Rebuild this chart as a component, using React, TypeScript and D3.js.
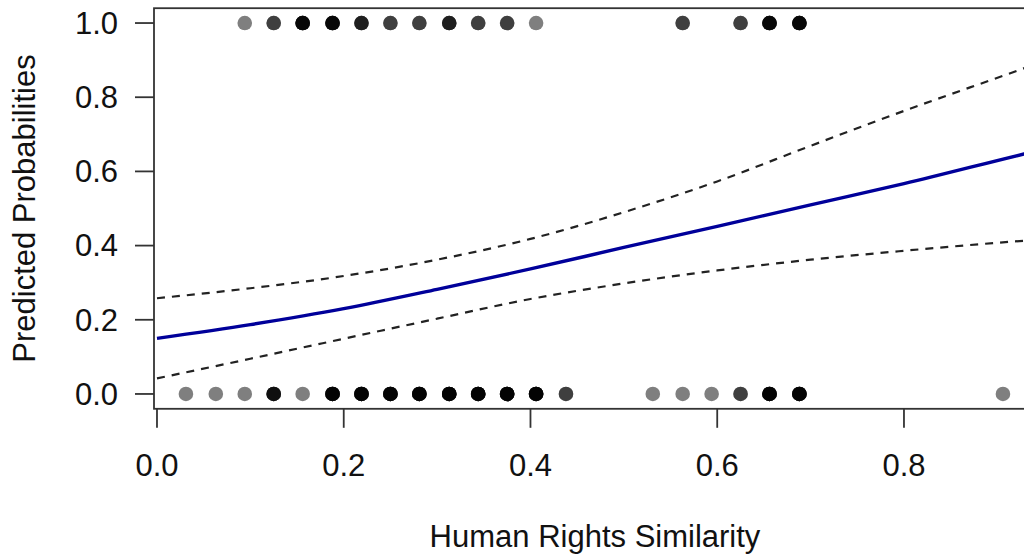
import React from "react";
import * as d3 from "d3";

// x positions of observed outcomes (Human Rights Similarity) and number of overlapping points
const topX = [0.094, 0.125, 0.156, 0.188, 0.219, 0.25, 0.281, 0.313, 0.344, 0.375, 0.406, 0.563, 0.625, 0.656, 0.688];
const topCounts = [1, 2, 5, 5, 3, 2, 2, 3, 2, 2, 1, 2, 2, 5, 5];
const bottomX = [0.031, 0.063, 0.094, 0.125, 0.156, 0.188, 0.219, 0.25, 0.281, 0.313, 0.344, 0.375, 0.406, 0.438, 0.531, 0.563, 0.594, 0.625, 0.656, 0.688, 0.906];
const bottomCounts = [1, 1, 1, 4, 1, 6, 6, 6, 6, 6, 6, 6, 6, 2, 1, 1, 1, 2, 6, 6, 1];

// predicted probability curve and confidence bounds
const curveX = [0.0, 0.1, 0.2, 0.3, 0.4, 0.5, 0.6, 0.7, 0.8, 0.9285, 0.945];
const fitY = [0.150, 0.187, 0.230, 0.282, 0.337, 0.395, 0.452, 0.510, 0.567, 0.647, 0.657];
const upperY = [0.258, 0.285, 0.318, 0.362, 0.418, 0.490, 0.573, 0.669, 0.763, 0.878, 0.893];
const lowerY = [0.042, 0.095, 0.149, 0.203, 0.256, 0.298, 0.333, 0.362, 0.386, 0.413, 0.416];

const xTicks = [0, 0.2, 0.4, 0.6, 0.8];
const yTicks = [0, 0.2, 0.4, 0.6, 0.8, 1.0];
const xTitle = "Human Rights Similarity";
const yTitle = "Predicted Probabilities";

export default function App() {
  const W = 1024, H = 558;
  const left = 154, right = 1036, top = 8.2, bottom = 408.8;
  const x = d3.scaleLinear().domain([-0.0032, 0.9414]).range([left, right]);
  const y = d3.scaleLinear().domain([-0.04, 1.04]).range([bottom, top]);
  const font = "'Liberation Sans', Arial, Helvetica, sans-serif";
  const fs = 31;

  const line = d3.line<number>()
    .x((_, i) => x(curveX[i]))
    .y((d) => y(d))
    .curve(d3.curveMonotoneX);

  const dots: JSX.Element[] = [];
  const addDots = (xs: number[], counts: number[], yv: number, key: string) => {
    xs.forEach((v, i) => {
      for (let k = 0; k < counts[i]; k++) {
        dots.push(
          <circle key={`${key}-${i}-${k}`} cx={x(v)} cy={y(yv)} r={7.3} fill="#000" fillOpacity={0.5} />
        );
      }
    });
  };
  addDots(topX, topCounts, 1, "t");
  addDots(bottomX, bottomCounts, 0, "b");

  return (
    <svg width={W} height={H} style={{ position: "absolute", left: 0, top: 0, background: "#fff" }}>
      <defs>
        <clipPath id="plotclip">
          <rect x={left} y={top} width={right - left} height={bottom - top} />
        </clipPath>
      </defs>
      <rect x={0} y={0} width={W} height={H} fill="#fff" />
      <g clipPath="url(#plotclip)">
        {dots}
        <path d={line(upperY) || ""} fill="none" stroke="#222" strokeWidth={2.2} strokeDasharray="8,7" />
        <path d={line(lowerY) || ""} fill="none" stroke="#222" strokeWidth={2.2} strokeDasharray="8,7" />
        <path d={line(fitY) || ""} fill="none" stroke="#00009a" strokeWidth={3.4} />
      </g>
      <rect x={left} y={top} width={right - left} height={bottom - top} fill="none" stroke="#333" strokeWidth={1.8} />
      {yTicks.map((t) => (
        <g key={`yt${t}`}>
          <line x1={left - 19} x2={left} y1={y(t)} y2={y(t)} stroke="#333" strokeWidth={1.8} />
          <text x={118} y={y(t)} dy="0.35em" textAnchor="end" fontFamily={font} fontSize={fs} fill="#111">
            {t.toFixed(1)}
          </text>
        </g>
      ))}
      {xTicks.map((t) => (
        <g key={`xt${t}`}>
          <line x1={x(t)} x2={x(t)} y1={bottom} y2={bottom + 19} stroke="#333" strokeWidth={1.8} />
          <text x={x(t)} y={476} textAnchor="middle" fontFamily={font} fontSize={fs} fill="#111">
            {t.toFixed(1)}
          </text>
        </g>
      ))}
      <text x={(left + right) / 2} y={547} textAnchor="middle" fontFamily={font} fontSize={fs} fill="#111">
        {xTitle}
      </text>
      <text
        transform={`translate(35, ${(top + bottom) / 2}) rotate(-90)`}
        textAnchor="middle"
        fontFamily={font}
        fontSize={fs}
        fill="#111"
      >
        {yTitle}
      </text>
    </svg>
  );
}
